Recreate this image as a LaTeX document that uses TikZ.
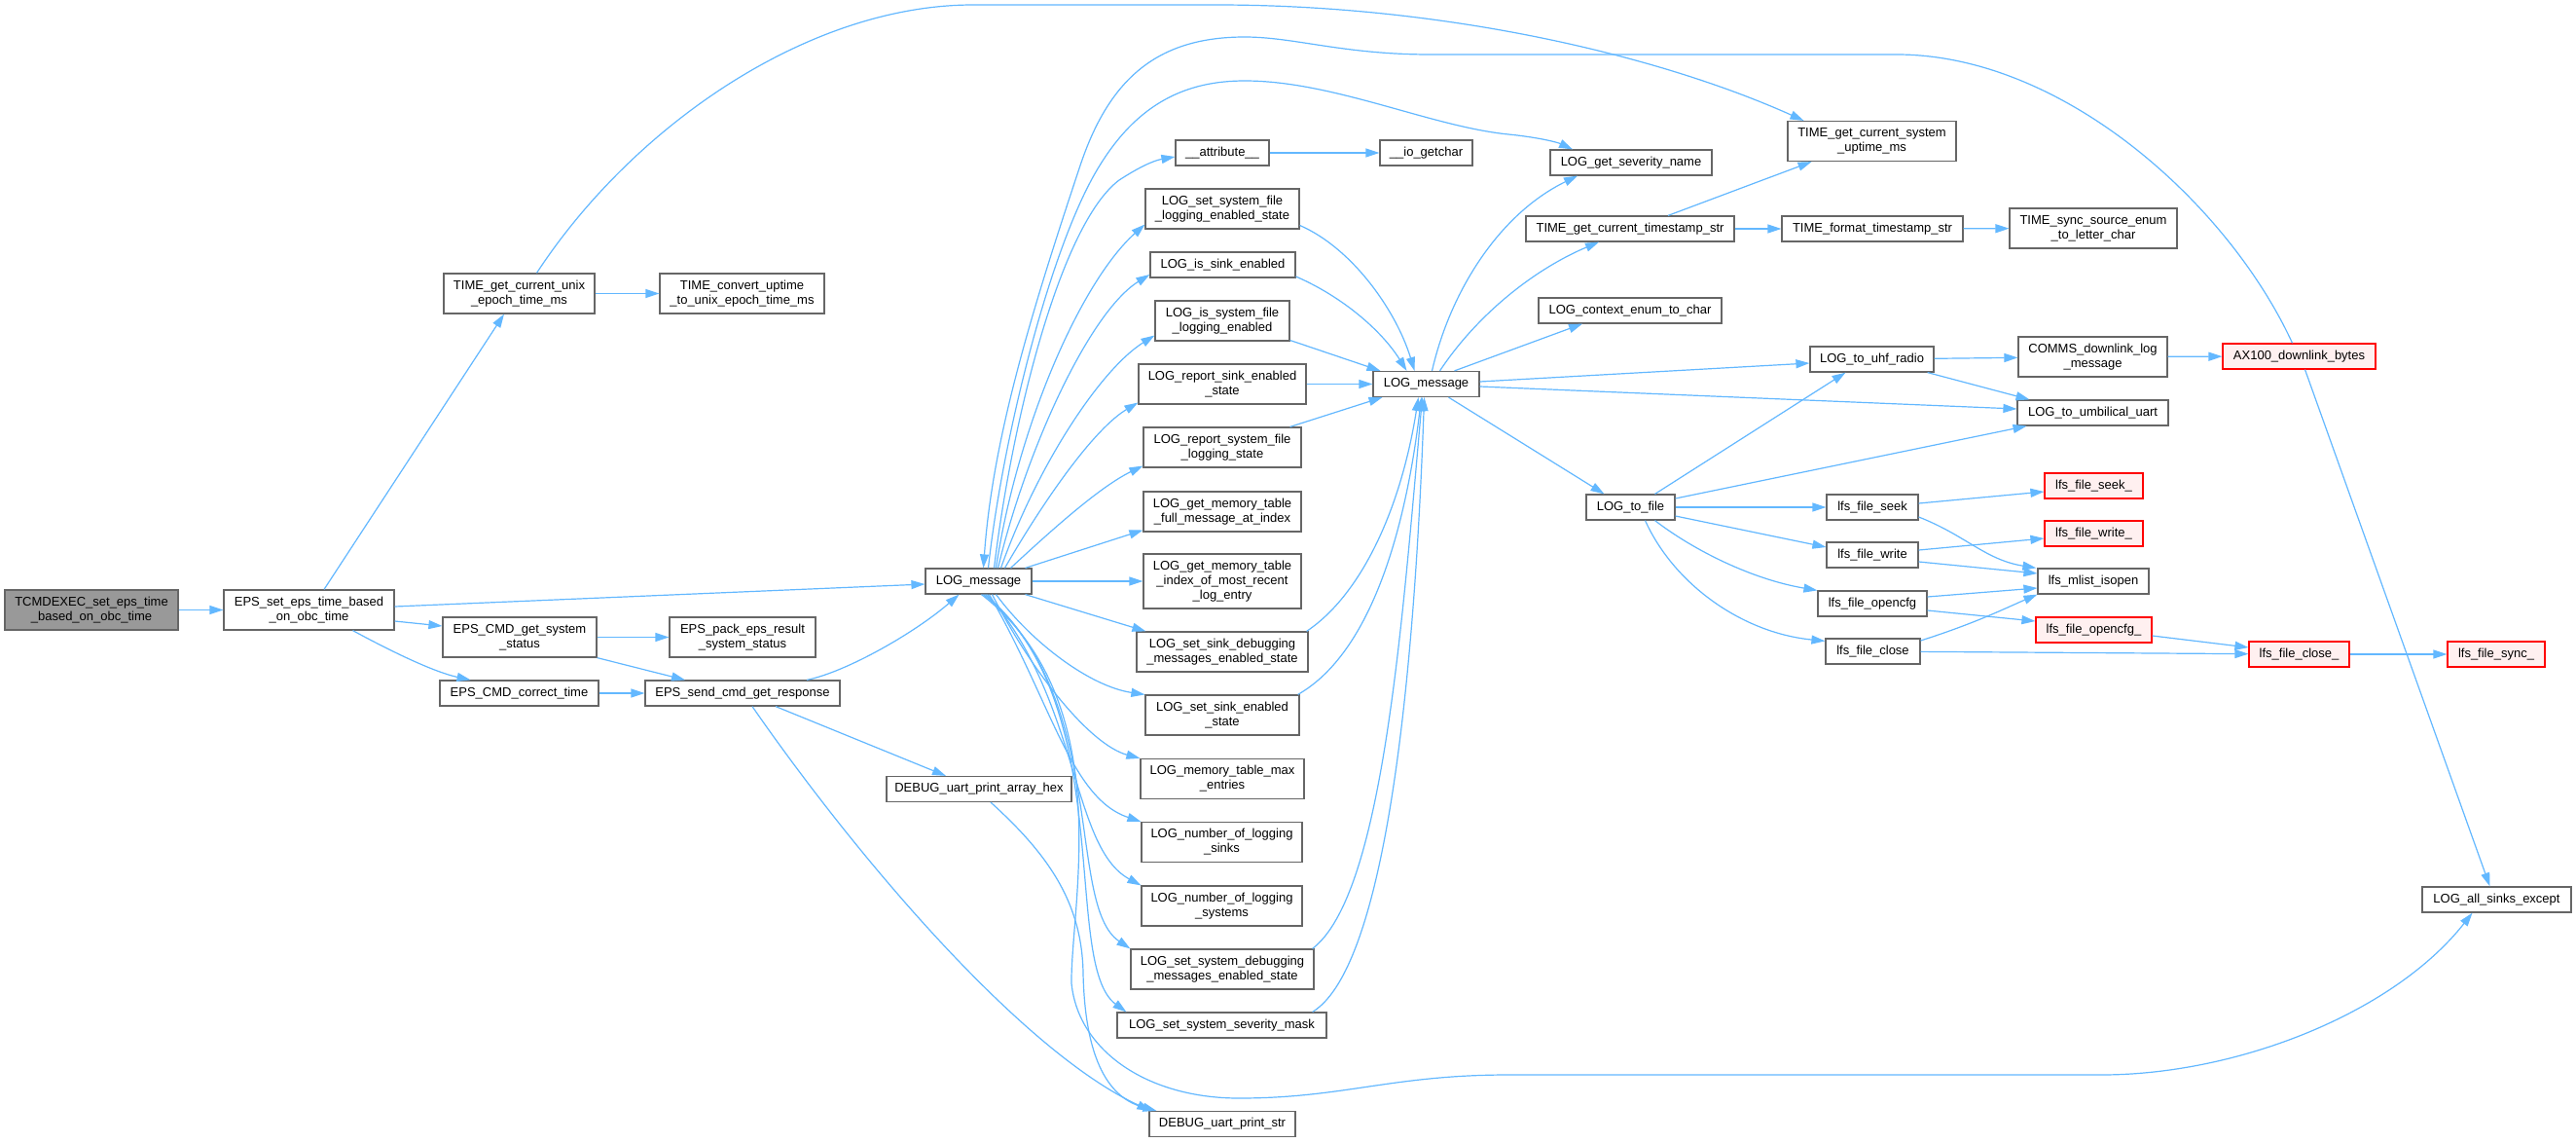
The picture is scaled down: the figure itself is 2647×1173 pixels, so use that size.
\documentclass[tikz,border=0pt]{standalone}
\usepackage{fontspec}
\setmainfont{Liberation Sans}
\usetikzlibrary{arrows.meta}
\definecolor{edgeblue}{HTML}{63B8FF}
\definecolor{nodeborder}{HTML}{666666}
\definecolor{grayfill}{HTML}{999999}
\definecolor{redfill}{HTML}{FFF0F0}
\definecolor{redborder}{HTML}{FF0000}
\begin{document}
\begin{tikzpicture}[x=1pt,y=-1pt,
  nb/.style={draw=nodeborder, fill=white, line width=1.2pt, inner sep=0pt, align=center, font=\fontsize{13}{15}\selectfont},
  nr/.style={nb, draw=redborder, fill=redfill},
  ng/.style={nb, fill=grayfill},
  e/.style={draw=edgeblue, line width=1.2pt, -{Triangle[length=14pt,width=9pt]}}]
\fill[white] (0,0) rectangle (2647,1173);
\useasboundingbox (0,0) rectangle (2647,1173);

% ---- nodes ----
\node[ng, minimum width=178pt, minimum height=41pt] (tcmd) at (94,626.5) {TCMDEXEC\_set\_eps\_time\\\_based\_on\_obc\_time};
\node[nb, minimum width=175pt, minimum height=41pt] (epsset) at (317.5,626.5) {EPS\_set\_eps\_time\_based\\\_on\_obc\_time};
\node[nb, minimum width=155pt, minimum height=41pt] (timeunix) at (533.5,301.5) {TIME\_get\_current\_unix\\\_epoch\_time\_ms};
\node[nb, minimum width=169pt, minimum height=41pt] (timeconv) at (762.5,301.5) {TIME\_convert\_uptime\\\_to\_unix\_epoch\_time\_ms};
\node[nb, minimum width=158pt, minimum height=41pt] (epsgetsys) at (534,654.5) {EPS\_CMD\_get\_system\\\_status};
\node[nb, minimum width=150pt, minimum height=41pt] (epspack) at (763,654.5) {EPS\_pack\_eps\_result\\\_system\_status};
\node[nb, minimum width=163pt, minimum height=26pt] (epscorrect) at (533.5,712) {EPS\_CMD\_correct\_time};
\node[nb, minimum width=200pt, minimum height=26pt] (epssend) at (763,712) {EPS\_send\_cmd\_get\_response};
\node[nb, minimum width=109pt, minimum height=26pt] (logmsg1) at (1005.5,597) {LOG\_message};
\node[nb, minimum width=190pt, minimum height=26pt] (dbghex) at (1006,810.5) {DEBUG\_uart\_print\_array\_hex};
\node[nb, minimum width=96pt, minimum height=26pt] (attr) at (1256,157) {\_\_attribute\_\_};
\node[nb, minimum width=95pt, minimum height=26pt] (iogetchar) at (1465.5,157) {\_\_io\_getchar};
\node[nb, minimum width=158pt, minimum height=41pt] (setsysfile) at (1256,214.5) {LOG\_set\_system\_file\\\_logging\_enabled\_state};
\node[nb, minimum width=149pt, minimum height=26pt] (issink) at (1256.5,272) {LOG\_is\_sink\_enabled};
\node[nb, minimum width=138pt, minimum height=41pt] (issysfile) at (1256,329.5) {LOG\_is\_system\_file\\\_logging\_enabled};
\node[nb, minimum width=172pt, minimum height=41pt] (repsink) at (1256,394.5) {LOG\_report\_sink\_enabled\\\_state};
\node[nb, minimum width=162pt, minimum height=41pt] (repsysfile) at (1256,459.5) {LOG\_report\_system\_file\\\_logging\_state};
\node[nb, minimum width=162pt, minimum height=41pt] (memfull) at (1256,525.5) {LOG\_get\_memory\_table\\\_full\_message\_at\_index};
\node[nb, minimum width=162pt, minimum height=56pt] (memidx) at (1256,597) {LOG\_get\_memory\_table\\\_index\_of\_most\_recent\\\_log\_entry};
\node[nb, minimum width=176pt, minimum height=41pt] (setsinkdbg) at (1256,669.5) {LOG\_set\_sink\_debugging\\\_messages\_enabled\_state};
\node[nb, minimum width=158pt, minimum height=41pt] (setsinken) at (1256,734.5) {LOG\_set\_sink\_enabled\\\_state};
\node[nb, minimum width=168pt, minimum height=41pt] (memmax) at (1256,800) {LOG\_memory\_table\_max\\\_entries};
\node[nb, minimum width=165pt, minimum height=41pt] (numsinks) at (1255.5,865) {LOG\_number\_of\_logging\\\_sinks};
\node[nb, minimum width=165pt, minimum height=41pt] (numsys) at (1255.5,930.5) {LOG\_number\_of\_logging\\\_systems};
\node[nb, minimum width=188pt, minimum height=41pt] (setsysdbg) at (1256,995.5) {LOG\_set\_system\_debugging\\\_messages\_enabled\_state};
\node[nb, minimum width=215pt, minimum height=26pt] (sevmask) at (1255.5,1053) {LOG\_set\_system\_severity\_mask};
\node[nb, minimum width=150pt, minimum height=26pt] (dbgstr) at (1256,1154.5) {DEBUG\_uart\_print\_str};
\node[nb, minimum width=109pt, minimum height=26pt] (logmsg2) at (1465.5,394.5) {LOG\_message};
\node[nb, minimum width=166pt, minimum height=26pt] (sevname) at (1676,167) {LOG\_get\_severity\_name};
\node[nb, minimum width=214pt, minimum height=26pt] (tsstr) at (1675,235) {TIME\_get\_current\_timestamp\_str};
\node[nb, minimum width=188pt, minimum height=26pt] (ctxenum) at (1675,319) {LOG\_context\_enum\_to\_char};
\node[nb, minimum width=91pt, minimum height=26pt] (tofile) at (1675.5,521) {LOG\_to\_file};
\node[nb, minimum width=173pt, minimum height=41pt] (uptime) at (1923.5,145) {TIME\_get\_current\_system\\\_uptime\_ms};
\node[nb, minimum width=186pt, minimum height=26pt] (fmtts) at (1924,235) {TIME\_format\_timestamp\_str};
\node[nb, minimum width=127pt, minimum height=26pt] (uhf) at (1923.5,369) {LOG\_to\_uhf\_radio};
\node[nb, minimum width=94pt, minimum height=26pt] (fseek) at (1924,521) {lfs\_file\_seek};
\node[nb, minimum width=94pt, minimum height=26pt] (fwrite) at (1924,570) {lfs\_file\_write};
\node[nb, minimum width=112pt, minimum height=26pt] (fopencfg) at (1924,620) {lfs\_file\_opencfg};
\node[nb, minimum width=97pt, minimum height=26pt] (fclose) at (1924.5,669) {lfs\_file\_close};
\node[nb, minimum width=172pt, minimum height=41pt] (syncenum) at (2151,234.5) {TIME\_sync\_source\_enum\\\_to\_letter\_char};
\node[nb, minimum width=153pt, minimum height=41pt] (comms) at (2150.5,366.5) {COMMS\_downlink\_log\\\_message};
\node[nb, minimum width=155pt, minimum height=26pt] (umb) at (2150.5,424) {LOG\_to\_umbilical\_uart};
\node[nr, minimum width=101pt, minimum height=26pt] (fseekr) at (2151.5,499) {lfs\_file\_seek\_};
\node[nr, minimum width=101pt, minimum height=26pt] (fwriter) at (2151.5,548) {lfs\_file\_write\_};
\node[nb, minimum width=114pt, minimum height=26pt] (isopen) at (2151,597) {lfs\_mlist\_isopen};
\node[nr, minimum width=119pt, minimum height=26pt] (fopencfgr) at (2151.5,647) {lfs\_file\_opencfg\_};
\node[nr, minimum width=157pt, minimum height=26pt] (ax100) at (2362.5,366) {AX100\_downlink\_bytes};
\node[nr, minimum width=103pt, minimum height=26pt] (fcloser) at (2362.5,672) {lfs\_file\_close\_};
\node[nb, minimum width=153pt, minimum height=26pt] (allsinks) at (2565.5,924) {LOG\_all\_sinks\_except};
\node[nr, minimum width=100pt, minimum height=26pt] (fsyncr) at (2565,672) {lfs\_file\_sync\_};

% ---- edges: left part ----
\draw[e] (tcmd) -- (epsset);
\draw[e] ([xshift=15.5pt]epsset.north) -- ([xshift=-15.5pt]timeunix.south);
\draw[e] ([yshift=3.5pt]epsset.east) -- ([yshift=-3pt]logmsg1.west);
\draw[e] ([yshift=-11.5pt]epsset.east) -- ([yshift=11.5pt]epsgetsys.west);
\draw[e] ([xshift=45pt]epsset.south) .. controls (400,668) and (445,690) .. ([xshift=-50pt]epscorrect.north);
\draw[e] (timeunix) -- (timeconv);
\draw[e] ([xshift=18pt]timeunix.north) .. controls (650,130) and (830,5) .. (1000,5) -- (1250,5)
  .. controls (1480,5) and (1700,55) .. ([xshift=-70pt]uptime.north);
\draw[e] (epsgetsys) -- (epspack);
\draw[e] (epsgetsys.south east) -- ([xshift=-59pt]epssend.north);
\draw[e] (epscorrect) -- (epssend);
\draw[e] ([xshift=66pt]epssend.north) .. controls (870,690) and (940,650) .. ([xshift=-20pt]logmsg1.south);
\draw[e] ([xshift=34pt]epssend.south) -- ([xshift=-34pt]dbghex.north);
\draw[e] ([xshift=10pt]epssend.south) .. controls (880,880) and (1050,1080) .. ([xshift=2pt]dbgstr.north west);
\draw[e] ([xshift=12pt]dbghex.south) .. controls (1080,880) and (1112,930) .. (1113,1000)
  .. controls (1115,1090) and (1140,1128) .. ([xshift=8pt]dbgstr.north west);

% ---- edges from LOG_message (1) upward ----
\draw[e] ([xshift=-7pt]ax100.north) .. controls (2290,210) and (2120,56) .. (1949,56) -- (1470,56)
  .. controls (1380,56) and (1330,38) .. (1279,38) .. controls (1190,38) and (1140,80) .. (1110,170)
  .. controls (1060,320) and (1020,450) .. ([xshift=5pt]logmsg1.north);
\draw[e] ([xshift=10pt]logmsg1.north) .. controls (1030,450) and (1080,250) .. (1130,170)
  .. controls (1170,105) and (1220,83) .. (1279,83) .. controls (1370,83) and (1470,130) .. (1550,138)
  .. controls (1580,141) and (1600,146) .. ([xshift=-60pt]sevname.north);
\draw[e] ([xshift=16pt]logmsg1.north) .. controls (1040,430) and (1090,230) .. (1150,185)
  .. controls (1170,172) and (1185,165) .. ([yshift=-4pt]attr.west);
\draw[e] ([xshift=18pt]logmsg1.north) .. controls (1045,440) and (1110,290) .. ([yshift=-16pt]setsysfile.west);
\draw[e] ([xshift=20pt]logmsg1.north) .. controls (1055,460) and (1120,320) .. ([yshift=-10pt]issink.west);
\draw[e] ([xshift=23pt]logmsg1.north) .. controls (1065,480) and (1130,380) .. ([yshift=-15pt]issysfile.west);
\draw[e] ([xshift=27pt]logmsg1.north) .. controls (1075,510) and (1125,440) .. ([yshift=-19pt]repsink.west);
\draw[e] ([xshift=33pt]logmsg1.north) .. controls (1080,545) and (1130,500) .. ([yshift=-19pt]repsysfile.west);
\draw[e] ([xshift=48pt]logmsg1.north) -- ([yshift=-19pt]memfull.west);
\draw[e] (logmsg1) -- (memidx);

% ---- edges from LOG_message (1) downward ----
\draw[e] ([xshift=48pt]logmsg1.south) -- ([xshift=10pt]setsinkdbg.north west);
\draw[e] ([xshift=18pt]logmsg1.south) .. controls (1060,660) and (1120,705) .. (setsinken.north west);
\draw[e] ([xshift=14pt]logmsg1.south) .. controls (1060,690) and (1120,765) .. (memmax.north west);
\draw[e] ([xshift=11pt]logmsg1.south) .. controls (1080,720) and (1100,820) .. (numsinks.north west);
\draw[e] ([xshift=9pt]logmsg1.south) .. controls (1110,720) and (1100,870) .. (numsys.north west);
\draw[e] ([xshift=7pt]logmsg1.south) .. controls (1140,720) and (1095,930) .. (setsysdbg.north west);
\draw[e] ([xshift=5pt]logmsg1.south) .. controls (1150,720) and (1090,990) .. ([xshift=10pt]sevmask.north west);
\draw[e] ([xshift=3pt]logmsg1.south) .. controls (1150,720) and (1100,930) .. (1101,1010)
  .. controls (1108,1080) and (1180,1128) .. (1273,1128) .. controls (1380,1128) and (1430,1104) .. (1550,1104)
  -- (2159,1104) .. controls (2300,1104) and (2460,1040) .. ([xshift=-25pt]allsinks.south);

\draw[e] (attr) -- (iogetchar);

% ---- edges into LOG_message (2) ----
\draw[e] ([yshift=-17pt]setsysfile.east) .. controls (1390,255) and (1435,320) .. ([xshift=-12pt]logmsg2.north);
\draw[e] ([yshift=-12pt]issink.east) .. controls (1380,305) and (1420,340) .. ([xshift=-20pt]logmsg2.north);
\draw[e] ([yshift=-20pt]issysfile.east) -- ([xshift=-47pt]logmsg2.north);
\draw[e] (repsink) -- (logmsg2);
\draw[e] ([xshift=-12pt]repsysfile.north east) -- ([xshift=-45pt]logmsg2.south);
\draw[e] ([xshift=-2pt]setsinkdbg.north east) .. controls (1400,610) and (1440,520) .. ([xshift=-8pt]logmsg2.south);
\draw[e] ([xshift=-2pt]setsinken.north east) .. controls (1410,670) and (1445,540) .. ([xshift=-5pt]logmsg2.south);
\draw[e] ([xshift=-2pt]setsysdbg.north east) .. controls (1420,920) and (1440,650) .. ([xshift=-4pt]logmsg2.south);
\draw[e] ([xshift=-15pt]sevmask.north east) .. controls (1430,990) and (1455,650) .. ([xshift=-2pt]logmsg2.south);

% ---- edges from LOG_message (2) ----
\draw[e] ([xshift=6pt]logmsg2.north) .. controls (1490,300) and (1540,220) .. ([xshift=-55pt]sevname.south);
\draw[e] ([xshift=14pt]logmsg2.north) .. controls (1520,320) and (1580,275) .. ([xshift=-32pt]tsstr.south);
\draw[e] ([xshift=29pt]logmsg2.north) -- ([xshift=-49pt]ctxenum.south);
\draw[e] ([yshift=2.5pt]logmsg2.east) -- ([yshift=-4pt]uhf.west);
\draw[e] ([yshift=-2.5pt]logmsg2.east) -- ([yshift=4pt]umb.west);
\draw[e] ([xshift=23pt]logmsg2.south) -- ([xshift=-27pt]tofile.north);

% ---- right part ----
\draw[e] ([xshift=39pt]tsstr.north) -- ([xshift=-62pt]uptime.south);
\draw[e] (tsstr) -- (fmtts);
\draw[e] (fmtts) -- (syncenum);
\draw[e] (uhf) -- (comms);
\draw[e] (comms) -- (ax100);
\draw[e] ([xshift=-7pt]uhf.south east) -- ([xshift=-65pt]umb.north);
\draw[e] ([xshift=6pt]ax100.south) -- ([xshift=-7pt]allsinks.north);
\draw[e] ([xshift=25pt]tofile.north) -- ([xshift=-27pt]uhf.south);
\draw[e] ([yshift=9pt]tofile.east) -- ([xshift=-68pt]umb.south);
\draw[e] (tofile) -- (fseek);
\draw[e] ([yshift=-9pt]tofile.east) -- ([yshift=8pt]fwrite.west);
\draw[e] ([xshift=25pt]tofile.south) .. controls (1740,565) and (1800,595) .. (fopencfg.north west);
\draw[e] ([xshift=15pt]tofile.south) .. controls (1720,600) and (1790,650) .. ([yshift=-3pt]fclose.north west);
\draw[e] ([yshift=4pt]fseek.east) -- ([yshift=-6pt]fseekr.west);
\draw[e] ([yshift=-10pt]fseek.east) .. controls (2020,550) and (2040,575) .. ([xshift=-1pt]isopen.north west);
\draw[e] ([yshift=5pt]fwrite.east) -- ([yshift=-5pt]fwriter.west);
\draw[e] ([yshift=-7pt]fwrite.east) -- ([yshift=8pt]isopen.west);
\draw[e] ([yshift=7pt]fopencfg.east) -- ([yshift=-7pt]isopen.west);
\draw[e] ([yshift=-7pt]fopencfg.east) -- ([yshift=9pt]fopencfgr.west);
\draw[e] ([yshift=11pt]fclose.east) .. controls (2030,640) and (2060,625) .. (isopen.south west);
\draw[e] (fclose) -- (fcloser);
\draw[e] ([yshift=-6pt]fopencfgr.east) -- ([yshift=7pt]fcloser.west);
\draw[e] (fcloser) -- (fsyncr);
\end{tikzpicture}
\end{document}
